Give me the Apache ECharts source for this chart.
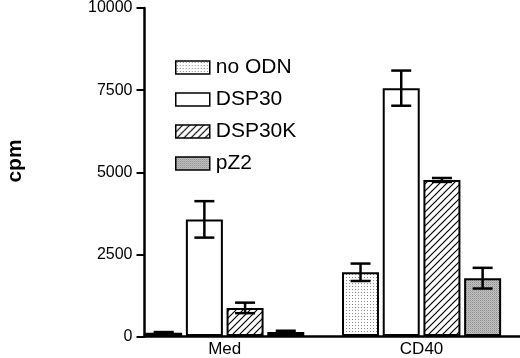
<!DOCTYPE html>
<html>
<head>
<meta charset="utf-8">
<script src="https://cdn.jsdelivr.net/npm/echarts@6/dist/echarts.min.js"></script>
<style>
html,body{margin:0;padding:0;background:#fff;}
#chart{width:520px;height:358px;}
</style>
</head>
<body>
<div id="chart"></div>
<script>
// ---- data ----
const categories = ['Med', 'CD40'];
const seriesNames = ['no ODN', 'DSP30', 'DSP30K', 'pZ2'];
const noODN = [100, 1940];
const noODNErr = [20, 265];
const dsp30 = [3550, 7545];
const dsp30Err = [555, 535];
const dsp30k = [855, 4750];
const dsp30kErr = [160, 60];
const pz2 = [125, 1760];
const pz2Err = [35, 315];
const yMin = 0, yMax = 10000, yInterval = 2500;
const yAxisTitle = 'cpm';

// ---- patterns ----
function makeCanvas(w, h, draw) {
  const c = document.createElement('canvas');
  c.width = w; c.height = h;
  const ctx = c.getContext('2d');
  draw(ctx);
  return c;
}
const dotPattern = makeCanvas(3, 3, ctx => {
  ctx.fillStyle = '#ffffff'; ctx.fillRect(0, 0, 3, 3);
  ctx.fillStyle = '#8a8a8a'; ctx.fillRect(1, 1, 1, 1);
});
const greyPattern = makeCanvas(2, 2, ctx => {
  ctx.fillStyle = '#c4c4c4'; ctx.fillRect(0, 0, 2, 2);
  ctx.fillStyle = '#8c8c8c'; ctx.fillRect(0, 0, 1, 1);
  ctx.fillStyle = '#a8a8a8'; ctx.fillRect(1, 1, 1, 1);
});
const hatchPattern = makeCanvas(7, 7, ctx => {
  ctx.fillStyle = '#ffffff'; ctx.fillRect(0, 0, 7, 7);
  ctx.strokeStyle = '#000000'; ctx.lineWidth = 1.2;
  ctx.beginPath();
  ctx.moveTo(-1, 8); ctx.lineTo(8, -1);
  ctx.moveTo(-1, 1); ctx.lineTo(1, -1);
  ctx.moveTo(6, 8); ctx.lineTo(8, 6);
  ctx.stroke();
});

const fills = [
  { image: dotPattern, repeat: 'repeat' },
  '#ffffff',
  { image: hatchPattern, repeat: 'repeat' },
  { image: greyPattern, repeat: 'repeat' }
];
const values = [noODN, dsp30, dsp30k, pz2];
const errs = [noODNErr, dsp30Err, dsp30kErr, pz2Err];

const BAR_W = 37;
const BAR_GAP = 0.1;
const FONT = '"Liberation Sans", Arial, Helvetica, sans-serif';

const barSeries = seriesNames.map((name, i) => ({
  name: name,
  type: 'bar',
  xAxisIndex: 0,
  yAxisIndex: 0,
  barWidth: BAR_W,
  barGap: (BAR_GAP * 100) + '%',
  data: values[i],
  itemStyle: { color: fills[i], borderColor: '#000', borderWidth: 2 },
  emphasis: { disabled: true },
  animation: false
}));

const errSeries = seriesNames.map((name, i) => ({
  type: 'custom',
  xAxisIndex: 0,
  yAxisIndex: 0,
  z: 5,
  silent: true,
  animation: false,
  data: categories.map((c, k) => [k, values[i][k], errs[i][k]]),
  encode: { x: 0, y: 1 },
  renderItem: function (params, api) {
    const k = api.value(0);
    const m = api.value(1);
    const e = api.value(2);
    const off = (i - 1.5) * BAR_W * (1 + BAR_GAP);
    const top = api.coord([k, m + e]);
    const bot = api.coord([k, m - e]);
    const x = top[0] + off;
    const cap = 10;
    const st = { stroke: '#000', lineWidth: 2.5 };
    return {
      type: 'group',
      children: [
        { type: 'line', shape: { x1: x, y1: top[1], x2: x, y2: bot[1] }, style: st },
        { type: 'line', shape: { x1: x - cap, y1: top[1], x2: x + cap, y2: top[1] }, style: st },
        { type: 'line', shape: { x1: x - cap, y1: bot[1], x2: x + cap, y2: bot[1] }, style: st }
      ]
    };
  }
}));

const chart = echarts.init(document.getElementById('chart'), null, { renderer: 'canvas' });
chart.setOption({
  backgroundColor: '#ffffff',
  animation: false,
  textStyle: { fontFamily: FONT, color: '#000' },
  grid: [
    { left: 126.3, right: -15, top: 7.5, bottom: 21.5 },
    { left: 144.5, right: 0, top: 7.5, bottom: 21.5 }
  ],
  legend: {
    orient: 'vertical',
    left: 170,
    top: 52,
    icon: 'rect',
    itemWidth: 34,
    itemHeight: 13,
    itemGap: 11,
    data: seriesNames,
    itemStyle: { borderWidth: 1.5, borderColor: '#000' },
    textStyle: { fontFamily: FONT, fontSize: 21, color: '#000', lineHeight: 21, padding: [0, 0, 0, 1] },
    selectedMode: false
  },
  xAxis: [
    {
      gridIndex: 0,
      type: 'category',
      data: categories,
      axisLine: { show: false },
      axisTick: { show: false },
      axisLabel: { fontFamily: FONT, fontSize: 17, color: '#000', margin: 5 }
    },
    {
      gridIndex: 1,
      type: 'value',
      min: 0, max: 1,
      axisLine: { show: true, lineStyle: { color: '#000', width: 2.5 } },
      axisTick: { show: false },
      axisLabel: { show: false },
      splitLine: { show: false }
    }
  ],
  yAxis: [
    {
      gridIndex: 0,
      type: 'value',
      min: yMin, max: yMax, interval: yInterval,
      show: false,
      splitLine: { show: false }
    },
    {
      gridIndex: 1,
      type: 'value',
      min: yMin, max: yMax, interval: yInterval,
      axisLine: { show: true, lineStyle: { color: '#000', width: 2.5 } },
      axisTick: { show: true, length: 8, lineStyle: { color: '#000', width: 2 } },
      axisLabel: { fontFamily: FONT, fontSize: 16, color: '#000', margin: 12, formatter: v => String(v) },
      splitLine: { show: false }
    }
  ],
  graphic: [
    {
      type: 'text',
      x: 15, y: 161,
      rotation: Math.PI / 2,
      style: {
        text: yAxisTitle,
        font: 'bold 21px ' + FONT,
        fill: '#000',
        textAlign: 'center',
        textVerticalAlign: 'middle'
      }
    }
  ],
  series: barSeries.concat(errSeries)
});
</script>
</body>
</html>
